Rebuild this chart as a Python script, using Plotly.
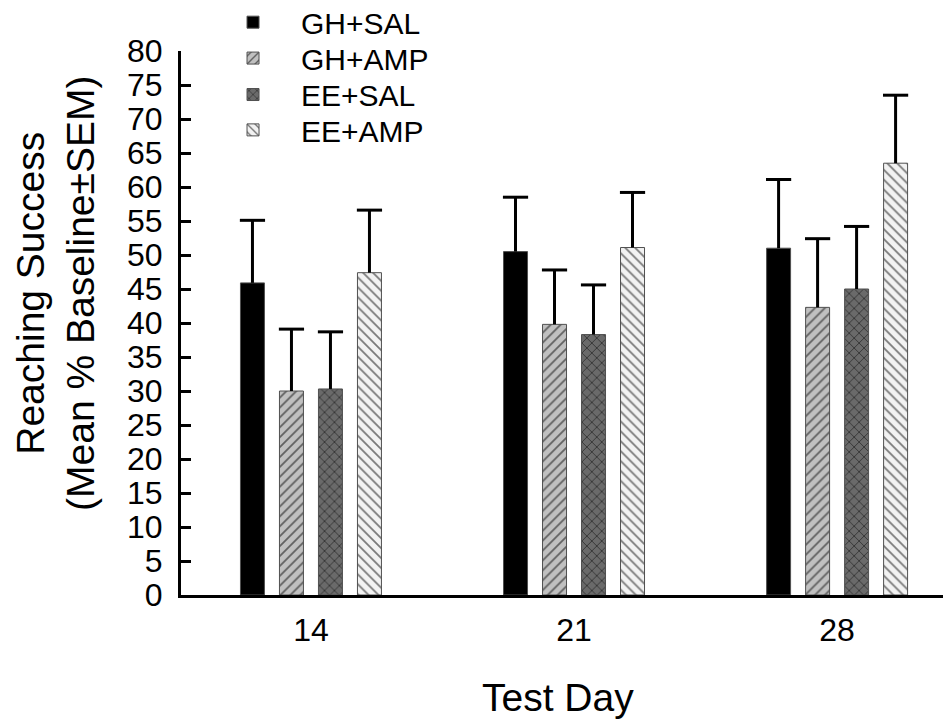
import plotly.graph_objects as go

days = ["14", "21", "28"]
groups = ["GH+SAL", "GH+AMP", "EE+SAL", "EE+AMP"]

gh_sal = [45.9, 50.5, 51.0]
gh_amp = [30.0, 39.8, 42.3]
ee_sal = [30.3, 38.3, 45.0]
ee_amp = [47.4, 51.1, 63.5]

gh_sal_sem = [9.2, 8.0, 10.1]
gh_amp_sem = [9.1, 8.0, 10.1]
ee_sal_sem = [8.4, 7.3, 9.2]
ee_amp_sem = [9.2, 8.1, 10.0]

y_ticks = list(range(0, 81, 5))

FONT = "Liberation Sans, Arial, sans-serif"

styles = [
    dict(color="#000000", pattern=None),
    dict(color="#c0c0c0", pattern=dict(shape="/", fgcolor="#000000", bgcolor="#c0c0c0", size=7, solidity=0.25)),
    dict(color="#5a5a5a", pattern=dict(shape="x", fgcolor="#000000", bgcolor="#6a6a6a", size=7, solidity=0.25)),
    dict(color="#f2f2f2", pattern=dict(shape="\\", fgcolor="#000000", bgcolor="#f2f2f2", size=7, solidity=0.25)),
]

values = [gh_sal, gh_amp, ee_sal, ee_amp]
sems = [gh_sal_sem, gh_amp_sem, ee_sal_sem, ee_amp_sem]
legend_ids = ["legend", "legend2", "legend3", "legend4"]
legend_rows = [1.053, 0.987, 0.920, 0.855]

fig = go.Figure()
for i, (name, vals, err, st) in enumerate(zip(groups, values, sems, styles)):
    marker = dict(color=st["color"], line=dict(color="#505050", width=1))
    if st["pattern"] is not None:
        marker["pattern"] = st["pattern"]
    fig.add_trace(go.Bar(
        x=days, y=vals, name=name, marker=marker, legend=legend_ids[i],
        offsetgroup=f"g{i}", alignmentgroup="a",
        error_y=dict(type="data", symmetric=False, array=err,
                     arrayminus=[0] * len(err), color="#000000",
                     thickness=3, width=0),
    ))
for i, (name, vals, err) in enumerate(zip(groups, values, sems)):
    tops = [v + e for v, e in zip(vals, err)]
    fig.add_trace(go.Scatter(
        x=days, y=tops, mode="markers", showlegend=False, hoverinfo="skip",
        offsetgroup=f"g{i}", alignmentgroup="a",
        marker=dict(symbol="line-ew", size=18, color="black",
                    line=dict(color="black", width=3)),
    ))

legend_common = dict(xanchor="left", yanchor="middle", font=dict(size=30),
                     bgcolor="rgba(0,0,0,0)", borderwidth=0,
                     tracegroupgap=0, itemwidth=86)

layout_legends = {}
for lid, ly in zip(legend_ids, legend_rows):
    layout_legends[lid] = dict(x=0.0312, y=ly, **legend_common)

fig.update_layout(
    width=943, height=715,
    margin=dict(l=173, r=0, t=43, b=128, autoexpand=False),
    paper_bgcolor="white", plot_bgcolor="white",
    barmode="group", bargap=0.407, bargroupgap=0.385,
    scattermode="group", scattergap=0.407,
    font=dict(family=FONT, color="black", size=30),
    showlegend=True,
    xaxis=dict(type="category", range=[-0.494, 2.433], showline=True,
               linecolor="black", linewidth=3, ticks="", showgrid=False,
               tickfont=dict(size=32), zeroline=False, automargin=False,
               ticklabelstandoff=5),
    yaxis=dict(range=[0, 80], tickvals=y_ticks, showline=True,
               linecolor="black", linewidth=3, ticks="inside", ticklen=10,
               tickwidth=3, tickcolor="black", showgrid=False, zeroline=False,
               tickfont=dict(size=32), ticklabelstandoff=9, automargin=False),
    annotations=[
        dict(text="Reaching Success<br>(Mean % Baseline±SEM)", textangle=-90,
             xref="paper", yref="paper", x=-0.1625, y=0.555,
             xanchor="center", yanchor="middle", showarrow=False,
             font=dict(size=39)),
        dict(text="Test Day", xref="paper", yref="paper", x=0.4896, y=-0.188,
             xanchor="center", yanchor="middle", showarrow=False,
             font=dict(size=39)),
    ],
    **layout_legends,
)

fig.write_html("out.html")
